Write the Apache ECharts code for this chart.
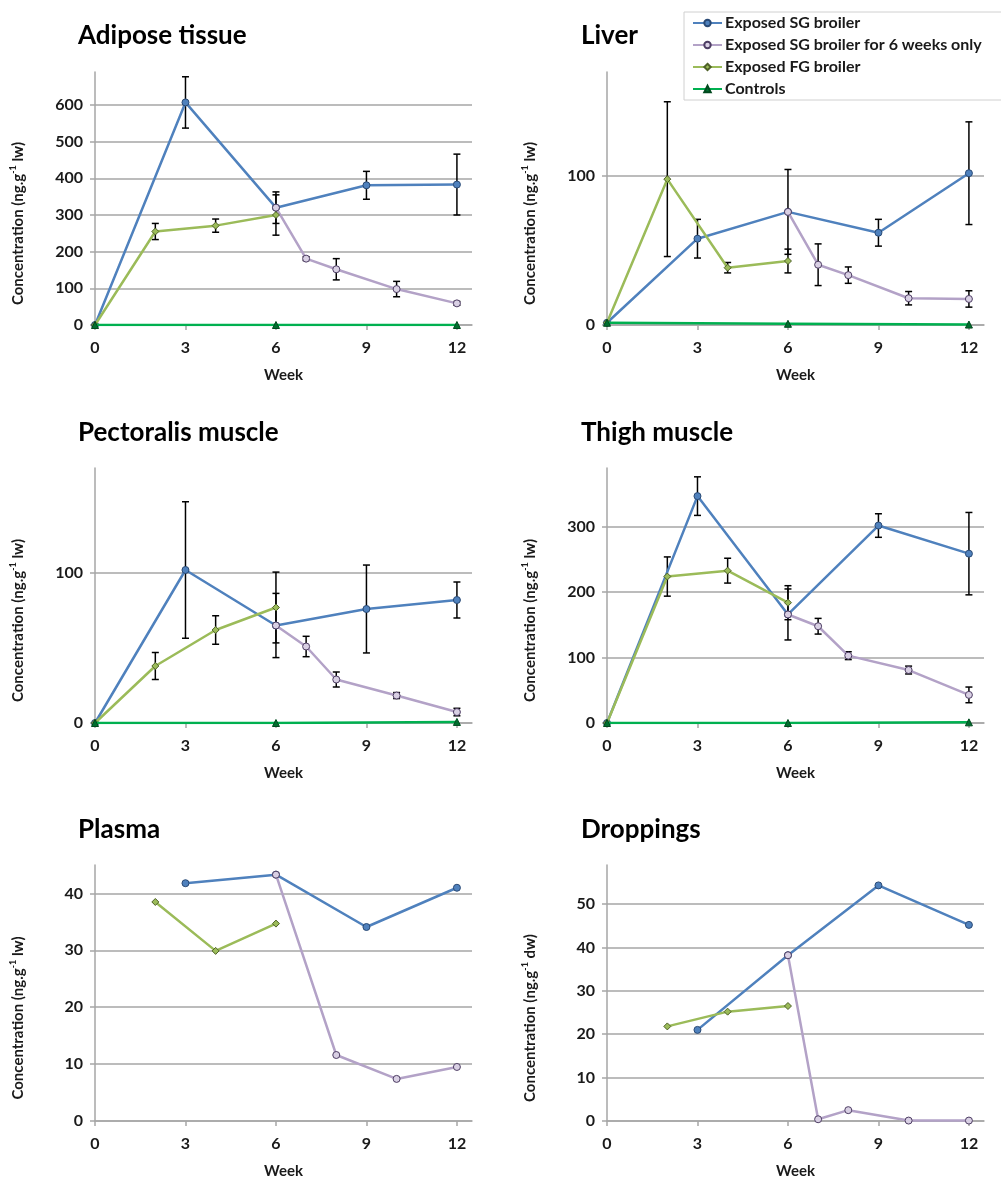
<!DOCTYPE html>
<html><head><meta charset="utf-8">
<script src="https://cdn.jsdelivr.net/npm/echarts@6/dist/echarts.min.js"></script>
<style>html,body{margin:0;padding:0;background:#fff}#c{width:1001px;height:1180px}</style>
</head><body><div id="c"></div>
<script>
// ---------- DATA ----------
const seriesNames = ['Exposed SG broiler', 'Exposed SG broiler for 6 weeks only', 'Exposed FG broiler', 'Controls'];
const xTickLabels = [0, 3, 6, 9, 12];

// Adipose tissue
const adiposeSGWeeks = [0, 3, 6, 9, 12];
const adiposeSG = [0, 607, 320, 381, 383];
const adiposeSGErr = [0, 70, 43, 38, 83];
const adiposeSG6Weeks = [6, 7, 8, 10, 12];
const adiposeSG6 = [320, 181, 152, 98, 59];
const adiposeSG6Err = [0, 5, 29, 21, 5];
const adiposeFGWeeks = [0, 2, 4, 6];
const adiposeFG = [0, 255, 271, 300];
const adiposeFGErr = [0, 22, 18, 55];
const adiposeCtrlWeeks = [0, 6, 12];
const adiposeCtrl = [0, 0, 0];
const adiposeYTicks = [0, 100, 200, 300, 400, 500, 600];

// Liver
const liverSGWeeks = [0, 3, 6, 9, 12];
const liverSG = [1.5, 58, 76, 62, 102];
const liverSGErr = [0, 13, 28.5, 9, 34.5];
const liverSG6Weeks = [6, 7, 8, 10, 12];
const liverSG6 = [76, 40.5, 33.5, 18, 17.5];
const liverSG6Err = [0, 14, 5.5, 4.5, 5.5];
const liverFGWeeks = [0, 2, 4, 6];
const liverFG = [1.5, 98, 38.5, 43];
const liverFGErr = [0, 52, 3.5, 8];
const liverCtrlWeeks = [0, 6, 12];
const liverCtrl = [1.5, 0.8, 0.3];
const liverYTicks = [0, 100];

// Pectoralis muscle
const pectSGWeeks = [0, 3, 6, 9, 12];
const pectSG = [0, 102, 65, 76, 82];
const pectSGErr = [0, 45.5, 21.4, 29.3, 12];
const pectSG6Weeks = [6, 7, 8, 10, 12];
const pectSG6 = [65, 51, 29, 18.3, 7.3];
const pectSG6Err = [0, 6.8, 5, 2, 2.5];
const pectFGWeeks = [0, 2, 4, 6];
const pectFG = [0, 38, 62, 77];
const pectFGErr = [0, 9, 9.5, 23.6];
const pectCtrlWeeks = [0, 6, 12];
const pectCtrl = [0, 0, 0.7];
const pectYTicks = [0, 100];

// Thigh muscle
const thighSGWeeks = [0, 3, 6, 9, 12];
const thighSG = [0, 347, 166, 302, 259];
const thighSGErr = [0, 29.5, 39, 18, 63];
const thighSG6Weeks = [6, 7, 8, 10, 12];
const thighSG6 = [166, 148, 103, 81, 43];
const thighSG6Err = [0, 12, 6, 6, 12];
const thighFGWeeks = [0, 2, 4, 6];
const thighFG = [0, 224, 233, 184];
const thighFGErr = [0, 30, 19, 26];
const thighCtrlWeeks = [0, 6, 12];
const thighCtrl = [0, 0, 1];
const thighYTicks = [0, 100, 200, 300];

// Plasma
const plasmaSGWeeks = [3, 6, 9, 12];
const plasmaSG = [41.8, 43.3, 34.1, 41];
const plasmaSG6Weeks = [6, 8, 10, 12];
const plasmaSG6 = [43.3, 11.6, 7.4, 9.5];
const plasmaFGWeeks = [2, 4, 6];
const plasmaFG = [38.5, 29.9, 34.7];
const plasmaYTicks = [0, 10, 20, 30, 40];

// Droppings
const dropSGWeeks = [3, 6, 9, 12];
const dropSG = [21, 38.2, 54.3, 45.2];
const dropSG6Weeks = [6, 7, 8, 10, 12];
const dropSG6 = [38.2, 0.4, 2.5, 0.1, 0.1];
const dropFGWeeks = [2, 4, 6];
const dropFG = [21.8, 25.2, 26.5];
const dropYTicks = [0, 10, 20, 30, 40, 50];

// ---------- PANELS ----------
const panels = [
  { title: 'Adipose tissue', unit: 'lw', yMax: 690, yInterval: 100, yTicks: adiposeYTicks,
    s: [[adiposeSGWeeks, adiposeSG, adiposeSGErr], [adiposeSG6Weeks, adiposeSG6, adiposeSG6Err], [adiposeFGWeeks, adiposeFG, adiposeFGErr], [adiposeCtrlWeeks, adiposeCtrl, null]] },
  { title: 'Liver', unit: 'lw', yMax: 170, yInterval: 100, yTicks: liverYTicks,
    s: [[liverSGWeeks, liverSG, liverSGErr], [liverSG6Weeks, liverSG6, liverSG6Err], [liverFGWeeks, liverFG, liverFGErr], [liverCtrlWeeks, liverCtrl, null]] },
  { title: 'Pectoralis muscle', unit: 'lw', yMax: 170, yInterval: 100, yTicks: pectYTicks,
    s: [[pectSGWeeks, pectSG, pectSGErr], [pectSG6Weeks, pectSG6, pectSG6Err], [pectFGWeeks, pectFG, pectFGErr], [pectCtrlWeeks, pectCtrl, null]] },
  { title: 'Thigh muscle', unit: 'lw', yMax: 390, yInterval: 100, yTicks: thighYTicks,
    s: [[thighSGWeeks, thighSG, thighSGErr], [thighSG6Weeks, thighSG6, thighSG6Err], [thighFGWeeks, thighFG, thighFGErr], [thighCtrlWeeks, thighCtrl, null]] },
  { title: 'Plasma', unit: 'lw', yMax: 45, yInterval: 10, yTicks: plasmaYTicks,
    s: [[plasmaSGWeeks, plasmaSG, null], [plasmaSG6Weeks, plasmaSG6, null], [plasmaFGWeeks, plasmaFG, null]] },
  { title: 'Droppings', unit: 'dw', yMax: 59, yInterval: 10, yTicks: dropYTicks,
    s: [[dropSGWeeks, dropSG, null], [dropSG6Weeks, dropSG6, null], [dropFGWeeks, dropFG, null]] }
];

// ---------- LAYOUT / STYLE ----------
const FONT = 'Lato, "Open Sans", sans-serif';
const colLeft = [95, 607];
const rowTop = [72, 468, 865];
const rowH = [253, 255, 256];
const plotW = 377;
const titleTop = [18, 415, 812];
const titleLeft = [73, 576];
const GRID = '#A6A6A6';
const TXT = '#1a1a1a';

const styles = [
  { line: '#4F81BD', symbol: 'circle', size: 7, fill: '#4F81BD', border: '#2A4A75' },
  { line: '#B3A2C7', symbol: 'circle', size: 7, fill: '#D9D0E4', border: '#4D3D63' },
  { line: '#9BBB59', symbol: 'diamond', size: 7, fill: '#9BBB59', border: '#4F6228' },
  { line: '#00B050', symbol: 'triangle', size: 7, fill: '#006E2E', border: '#004A1E' }
];

function renderErr(params, api) {
  const x = api.value(0), y = api.value(1), e = api.value(2);
  const t = api.coord([x, y + e]);
  const b = api.coord([x, y - e]);
  const c = 3.5;
  const st = { stroke: '#000', lineWidth: 1.5 };
  return { type: 'group', children: [
    { type: 'line', shape: { x1: t[0], y1: t[1], x2: b[0], y2: b[1] }, style: st },
    { type: 'line', shape: { x1: t[0] - c, y1: t[1], x2: t[0] + c, y2: t[1] }, style: st },
    { type: 'line', shape: { x1: b[0] - c, y1: b[1], x2: b[0] + c, y2: b[1] }, style: st }
  ]};
}

const grid = [], xAxis = [], yAxis = [], series = [], title = [];
panels.forEach((p, i) => {
  const col = i % 2, row = Math.floor(i / 2);
  grid.push({ left: colLeft[col], top: rowTop[row], width: plotW, height: rowH[row], containLabel: false });
  title.push({ text: p.title, left: titleLeft[col], top: titleTop[row],
    textStyle: { fontFamily: FONT, fontSize: 26, fontWeight: 'bold', color: '#000' } });
  xAxis.push({
    type: 'value', gridIndex: i, min: 0, max: 12.5, interval: 3,
    name: 'Week', nameLocation: 'middle', nameGap: 43,
    nameTextStyle: { fontFamily: FONT, fontSize: 15, fontWeight: 'bold', color: TXT },
    axisLine: { show: true, lineStyle: { color: GRID, width: 1.5 } },
    axisTick: { show: true, length: 5, inside: false, customValues: xTickLabels, lineStyle: { color: GRID, width: 1.5 } },
    axisLabel: { customValues: xTickLabels, margin: 15, fontFamily: FONT, fontSize: 16, fontWeight: 'bold', color: TXT },
    splitLine: { show: false }
  });
  yAxis.push({
    type: 'value', gridIndex: i, min: 0, max: p.yMax, interval: p.yInterval,
    name: '{a|Concentration (ng.g}{s|-1}{a| ' + p.unit + ')}',
    nameLocation: 'middle', nameGap: 68, nameRotate: 90,
    nameTextStyle: { padding: [0, 50, 0, 0], rich: {
      a: { fontFamily: FONT, fontSize: 15, fontWeight: 'bold', color: TXT, lineHeight: 18 },
      s: { fontFamily: FONT, fontSize: 9, fontWeight: 'bold', color: TXT, verticalAlign: 'top', lineHeight: 18 }
    } },
    axisLine: { show: true, lineStyle: { color: GRID, width: 1.5 } },
    axisTick: { show: true, length: 5, inside: false, customValues: p.yTicks, lineStyle: { color: GRID, width: 1.5 } },
    axisLabel: { customValues: p.yTicks, margin: 12, fontFamily: FONT, fontSize: 16, fontWeight: 'bold', color: TXT },
    splitLine: { show: true, lineStyle: { color: GRID, width: 1.5 } }
  });
  const errData = [];
  p.s.forEach((s, k) => {
    const [w, v, e] = s;
    const st = styles[k];
    series.push({
      name: seriesNames[k], type: 'line', xAxisIndex: i, yAxisIndex: i, z: 2 + k * 0.1,
      data: w.map((x, j) => [x, v[j]]),
      symbol: st.symbol, symbolSize: st.size, showSymbol: true,
      lineStyle: { color: st.line, width: 2.5 },
      itemStyle: { color: st.fill, borderColor: st.border, borderWidth: 1 },
      animation: false, silent: true
    });
    if (e) w.forEach((x, j) => { if (e[j] > 0) errData.push([x, v[j], e[j]]); });
  });
  if (errData.length) {
    series.push({ name: 'err' + i, type: 'custom', xAxisIndex: i, yAxisIndex: i, z: 1,
      renderItem: renderErr, data: errData, encode: { x: 0, y: 1 }, animation: false, silent: true });
  }
});

const chart = echarts.init(document.getElementById('c'), null, { renderer: 'canvas' });
chart.setOption({
  backgroundColor: '#fff',
  animation: false,
  title, grid, xAxis, yAxis, series,
  legend: {
    data: seriesNames, orient: 'vertical', left: 684, top: 12,
    padding: [3, 60, 3, 8], itemGap: 6, itemWidth: 29, itemHeight: 8,
    backgroundColor: '#fff', borderColor: '#D0D0D0', borderWidth: 1,
    textStyle: { fontFamily: FONT, fontSize: 16, fontWeight: 'bold', color: TXT, padding: [0, 0, 0, -2] },
    selectedMode: false
  }
});
</script></body></html>
